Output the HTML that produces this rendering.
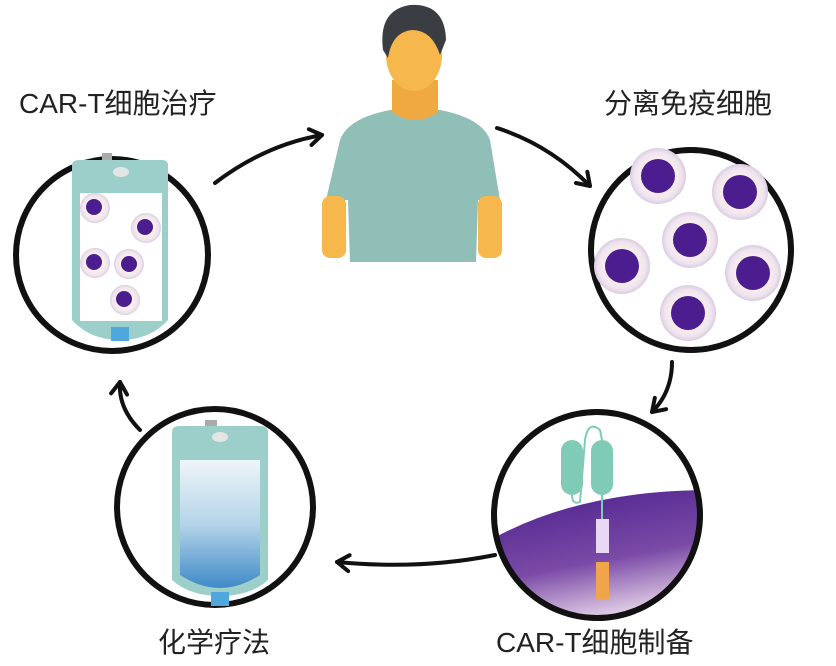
<!DOCTYPE html>
<html><head><meta charset="utf-8"><style>
body{margin:0;background:#fff;width:836px;height:666px;overflow:hidden}
.t{position:absolute;font-family:"Liberation Sans","Noto Sans CJK SC",sans-serif;font-size:28px;line-height:32px;color:#222;white-space:nowrap}
</style></head><body>
<svg width="836" height="666" style="position:absolute;left:0;top:0">
<defs>
<radialGradient id="cell" cx="50%" cy="50%" r="50%"><stop offset="0.5" stop-color="#fbf3ea"/><stop offset="0.85" stop-color="#efe3ef"/><stop offset="1" stop-color="#d9cce0"/></radialGradient>
<linearGradient id="purp" x1="0" y1="0" x2="0.3" y2="1"><stop offset="0" stop-color="#4a1f8c"/><stop offset="0.6" stop-color="#7a4aa6"/><stop offset="1" stop-color="#e9d8ea"/></linearGradient>
<linearGradient id="liq" x1="0" y1="0" x2="0" y2="1"><stop offset="0" stop-color="#eef5f8"/><stop offset="0.5" stop-color="#b5d4e8"/><stop offset="1" stop-color="#3f8ac8"/></linearGradient>
<clipPath id="c4"><circle cx="597" cy="515" r="103"/></clipPath>
<marker id="ah" markerWidth="20" markerHeight="20" refX="14" refY="10" orient="auto" markerUnits="userSpaceOnUse" viewBox="0 0 20 20"><path d="M2,2 L14,10 L2,18" fill="none" stroke="#111" stroke-width="4" stroke-linecap="round" stroke-linejoin="round"/></marker>
</defs>
<!-- person -->
<path d="M340,140 Q348,118 390,110 L440,110 Q482,118 490,140 L500,200 L478,200 L476,262 L350,262 L348,200 L326,200 Z" fill="#8fbfb7"/>
<rect x="322" y="196" width="24" height="62" rx="8" fill="#f6b84c"/>
<rect x="478" y="196" width="24" height="62" rx="8" fill="#f6b84c"/>
<path d="M392,80 L392,112 Q415,128 438,112 L438,80 Z" fill="#f0a840"/>
<ellipse cx="414" cy="55" rx="28" ry="36" fill="#f6b84c"/>
<path d="M383,50 Q378,10 410,5 Q445,3 446,40 L440,55 Q432,30 412,30 Q392,32 388,58 Z" fill="#3a3d42"/>
<!-- circles -->
<circle cx="112" cy="255" r="96" fill="#fff" stroke="#111" stroke-width="6"/>
<circle cx="691" cy="250" r="100" fill="#fff" stroke="#111" stroke-width="6"/>
<circle cx="215" cy="507" r="98" fill="#fff" stroke="#111" stroke-width="6"/>
<g clip-path="url(#c4)"><rect x="490" y="400" width="220" height="230" fill="#fff"/>
<path d="M490,540 Q580,490 710,490 L710,630 L490,630 Z" fill="url(#purp)"/></g>
<circle cx="597" cy="515" r="103" fill="none" stroke="#111" stroke-width="6"/>
<!-- CAR construct -->
<rect x="561" y="440" width="22" height="55" rx="11" fill="#7fcbb5"/>
<rect x="591" y="440" width="22" height="55" rx="11" fill="#7fcbb5"/>
<path d="M572,495 Q572,505 580,502 L585,440 Q588,420 600,430 L602,440 M602,495 L602,520" fill="none" stroke="#7fcbb5" stroke-width="2"/>
<rect x="596" y="519" width="13" height="34" fill="#e9d8f5"/>
<rect x="596" y="562" width="13" height="37" fill="#f1a54a"/>
<!-- top right cells -->
<g>
<circle cx="658" cy="176" r="28" fill="url(#cell)"/><circle cx="658" cy="176" r="17" fill="#4b1d8f"/>
<circle cx="740" cy="192" r="28" fill="url(#cell)"/><circle cx="740" cy="192" r="17" fill="#4b1d8f"/>
<circle cx="690" cy="240" r="28" fill="url(#cell)"/><circle cx="690" cy="240" r="17" fill="#4b1d8f"/>
<circle cx="622" cy="266" r="28" fill="url(#cell)"/><circle cx="622" cy="266" r="17" fill="#4b1d8f"/>
<circle cx="753" cy="273" r="28" fill="url(#cell)"/><circle cx="753" cy="273" r="17" fill="#4b1d8f"/>
<circle cx="688" cy="313" r="28" fill="url(#cell)"/><circle cx="688" cy="313" r="17" fill="#4b1d8f"/>
</g>
<!-- left bag -->
<rect x="102" y="153" width="10" height="12" fill="#aaa"/>
<path d="M72,165 Q72,160 80,160 L162,160 Q168,160 168,165 L168,320 Q150,340 120,340 Q90,340 72,320 Z" fill="#9ccfca"/>
<ellipse cx="121" cy="172" rx="8" ry="5" fill="#e5e5e5"/>
<rect x="80" y="193" width="82" height="128" fill="#fff"/>
<g>
<circle cx="95" cy="208" r="15" fill="url(#cell)"/><circle cx="94" cy="207" r="8" fill="#4b1d8f"/>
<circle cx="146" cy="228" r="15" fill="url(#cell)"/><circle cx="145" cy="227" r="8" fill="#4b1d8f"/>
<circle cx="95" cy="263" r="15" fill="url(#cell)"/><circle cx="94" cy="262" r="8" fill="#4b1d8f"/>
<circle cx="129" cy="264" r="15" fill="url(#cell)"/><circle cx="129" cy="264" r="8" fill="#4b1d8f"/>
<circle cx="125" cy="300" r="15" fill="url(#cell)"/><circle cx="124" cy="299" r="8" fill="#4b1d8f"/>
</g>
<rect x="111" y="327" width="18" height="14" fill="#4fa7dd"/>
<!-- bottom-left bag -->
<rect x="205" y="420" width="12" height="10" fill="#aaa"/>
<path d="M172,432 Q172,426 180,426 L260,426 Q268,426 268,432 L268,580 Q250,596 220,596 Q190,596 172,580 Z" fill="#9ccfca"/>
<ellipse cx="220" cy="437" rx="8" ry="5" fill="#e5e5e5"/>
<path d="M180,460 L260,460 L260,575 Q240,588 220,588 Q200,588 180,575 Z" fill="url(#liq)"/>
<rect x="211" y="592" width="18" height="14" fill="#4fa7dd"/>
<!-- arrows -->
<g fill="none" stroke="#111" stroke-width="4" stroke-linecap="round">
<path d="M215,183 Q265,145 322,135" marker-end="url(#ah)"/>
<path d="M497,128 Q550,145 590,186" marker-end="url(#ah)"/>
<path d="M672,362 Q672,392 652,412" marker-end="url(#ah)"/>
<path d="M495,555 Q420,570 337,562" marker-end="url(#ah)"/>
<path d="M140,430 Q118,408 120,382" marker-end="url(#ah)"/>
</g>
</svg>
<div class="t" style="left:19px;top:88px">CAR-T细胞治疗</div>
<div class="t" style="left:604px;top:88px">分离免疫细胞</div>
<div class="t" style="left:158px;top:627px">化学疗法</div>
<div class="t" style="left:496px;top:627px">CAR-T细胞制备</div>
</body></html>
